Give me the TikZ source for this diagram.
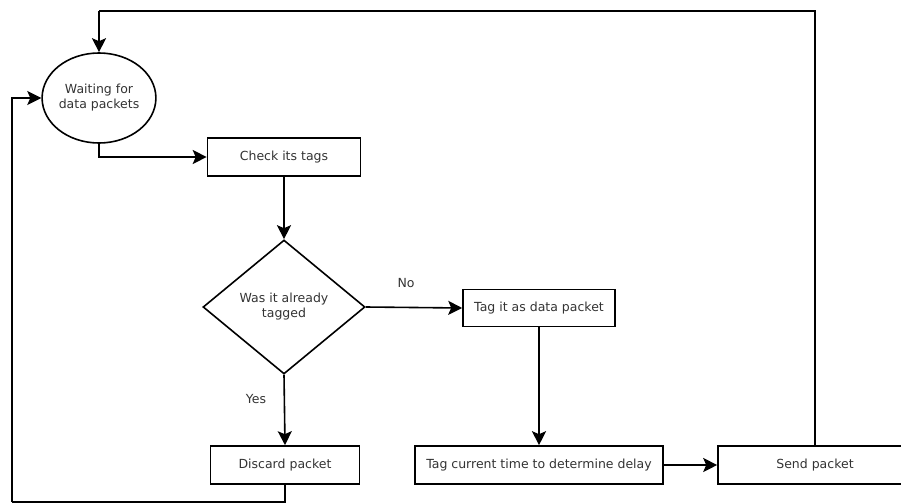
\documentclass[tikz,border=0pt]{standalone}
\usepackage{fontspec}
\setmainfont{DejaVu Sans}
\usetikzlibrary{shapes.geometric,arrows.meta}
\begin{document}
\begin{tikzpicture}[x=1pt,y=-1pt,
  every node/.style={font=\fontsize{12.5}{15}\selectfont, text=black!80},
  box/.style={draw=black, line width=1.6pt, rectangle, inner sep=0pt, minimum height=38pt},
  state/.style={draw=black, line width=1.6pt, ellipse, inner sep=0pt, minimum width=112pt, minimum height=90pt, align=center},
  decision/.style={draw=black, line width=1.6pt, diamond, inner sep=0pt, aspect=1.2, minimum width=162pt, minimum height=134pt, align=center},
  flow/.style={line width=1.6pt, -{Stealth[length=14pt,width=14pt,inset=3pt]}},
  plain/.style={line width=1.6pt},
  tag/.style={inner sep=0pt}]
  \useasboundingbox (0,0) rectangle (901,503);

  % states, actions and the decision
  \node[state] (wait) at (99,98) {Waiting for\\data packets};
  \node[box, minimum width=153pt] (check) at (284,157) {Check its tags};
  \node[decision] (dia) at (284,307) {Was it already\\tagged};
  \node[box, minimum width=152pt, minimum height=37pt] (tagit) at (539,308) {Tag it as data packet};
  \node[box, minimum width=149pt] (discard) at (285,465) {Discard packet};
  \node[box, minimum width=248pt] (time) at (539,465) {Tag current time to determine delay};
  \node[box, minimum width=194pt] (send) at (815,465) {Send packet};

  % branch labels
  \node[tag] (no) at (406,283) {No};
  \node[tag] (yes) at (256,399) {Yes};

  % corners of the two loops
  \coordinate (topcorner) at (99,11);
  \coordinate (botcorner) at (12,502);

  % connectors
  \draw[plain] (send.north) |- (topcorner);
  \draw[flow] (topcorner) -- (wait.north);
  \draw[flow] (wait.south) |- (check.west);
  \draw[flow] (check.south) -- (dia.north);
  \draw[flow] (dia.east) -- (tagit.west);
  \draw[flow] (tagit.south) -- (time.north);
  \draw[flow] (time.east) -- (send.west);
  \draw[flow] (dia.south) -- (discard.north);
  \draw[plain] (discard.south) |- (botcorner);
  \draw[flow] (botcorner) |- (wait.west);
\end{tikzpicture}
\end{document}
